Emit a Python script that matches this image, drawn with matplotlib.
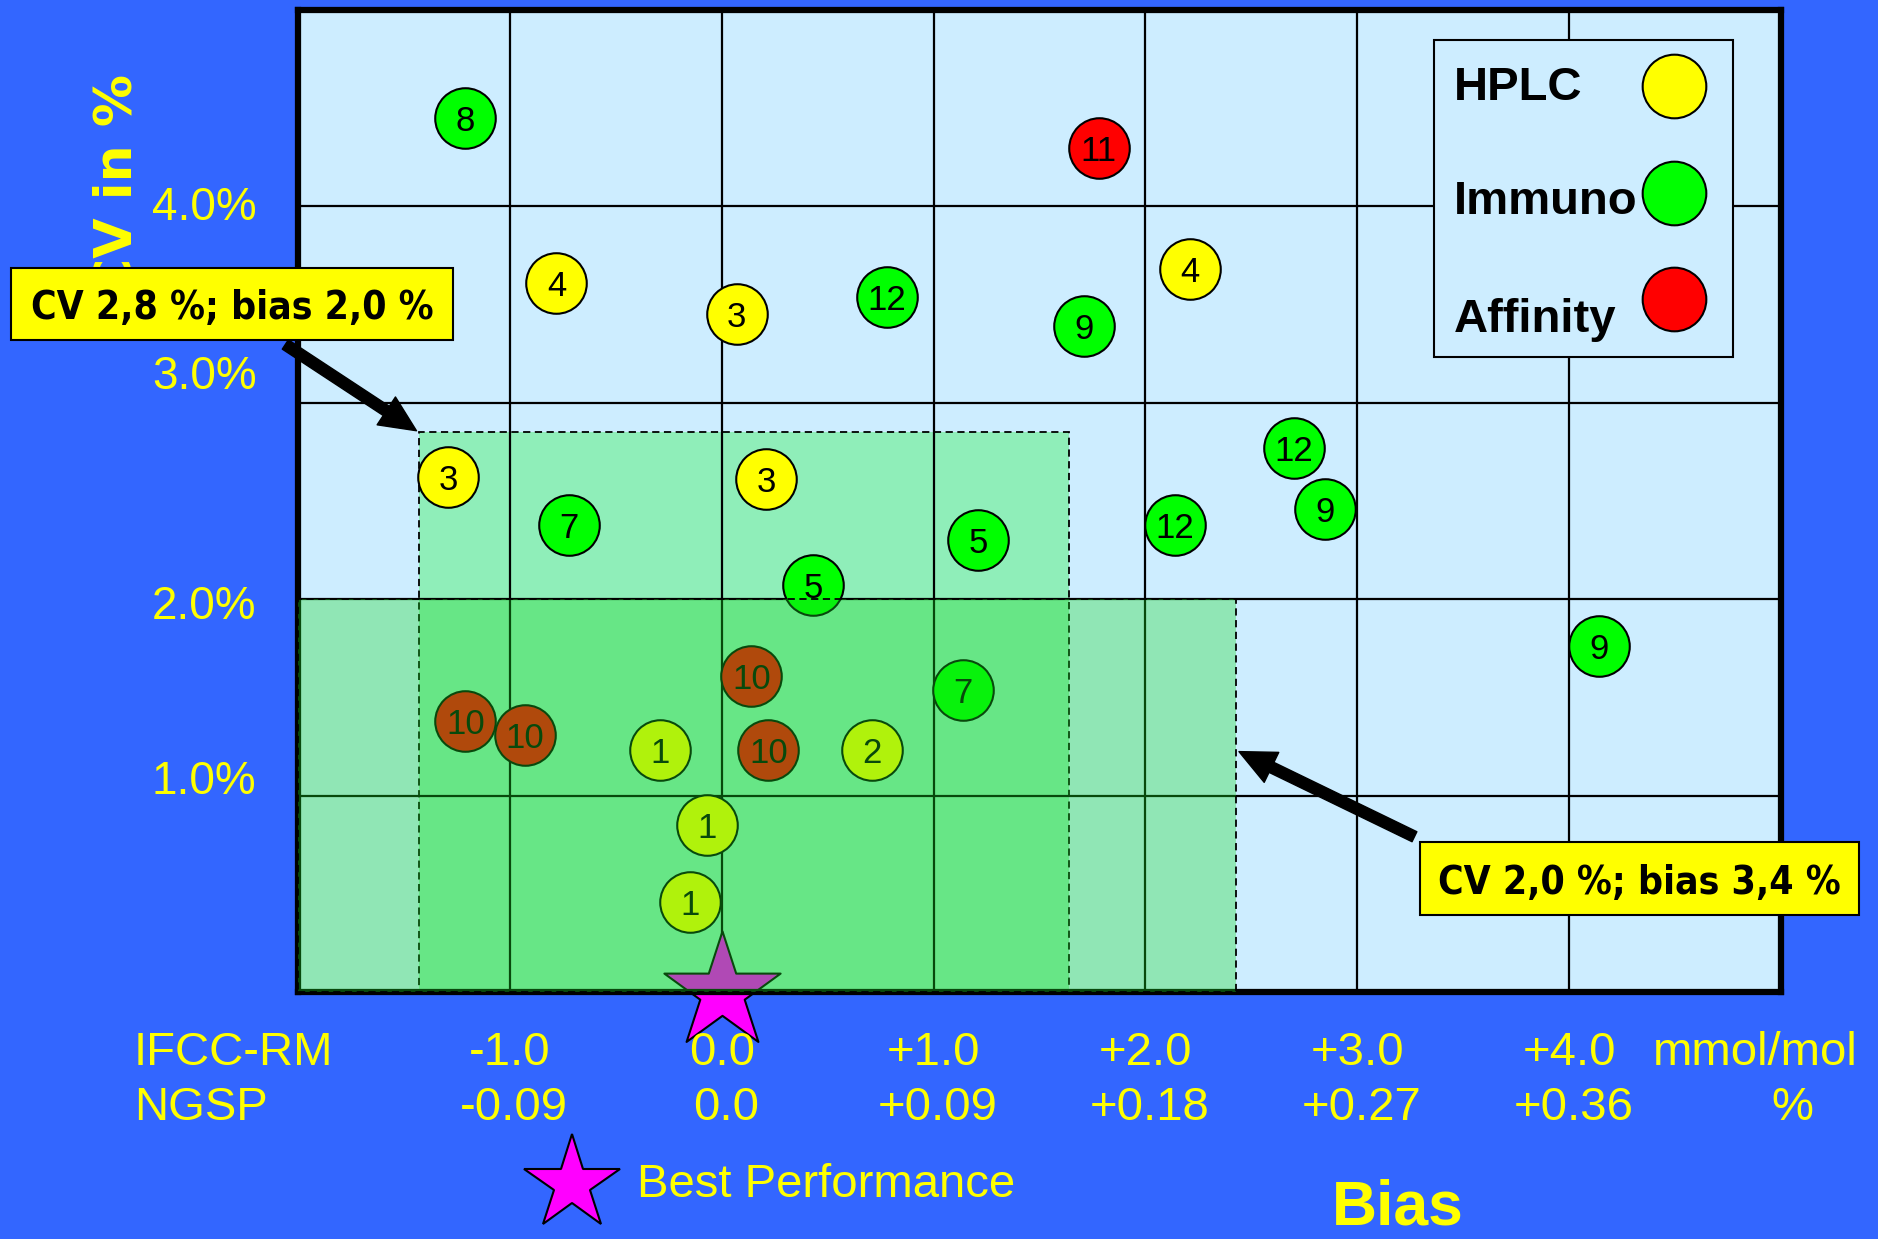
import matplotlib
matplotlib.use("Agg")
import matplotlib.pyplot as plt
from matplotlib.patches import Rectangle
from matplotlib.transforms import blended_transform_factory

# lab results: bias in mmol/mol (IFCC-RM) and CV in %
lab_id = ["8", "11", "4", "3", "12", "9", "4", "12", "9", "12", "9",
          "3", "3", "7", "5", "5", "10", "7", "10", "10", "1", "10", "2", "1", "1"]
bias = [-1.21, 1.78, -0.78, 0.07, 0.78, 1.71, 2.21, 2.70, 2.85, 2.14, 4.14,
        -1.29, 0.21, -0.72, 1.21, 0.43, 0.14, 1.14, -1.21, -0.93, -0.29, 0.22, 0.71, -0.07, -0.15]
cv = [4.45, 4.30, 3.61, 3.45, 3.54, 3.39, 3.68, 2.77, 2.46, 2.38, 1.76,
      2.62, 2.61, 2.38, 2.30, 2.07, 1.61, 1.54, 1.38, 1.31, 1.23, 1.23, 1.23, 0.85, 0.46]
method = ["Immuno", "Affinity", "HPLC", "HPLC", "Immuno", "Immuno", "HPLC", "Immuno", "Immuno", "Immuno", "Immuno",
          "HPLC", "HPLC", "Immuno", "Immuno", "Immuno", "Affinity", "Immuno", "Affinity", "Affinity",
          "HPLC", "Affinity", "HPLC", "HPLC", "HPLC"]

method_names = ["HPLC", "Immuno", "Affinity"]
method_colors = ["#ffff00", "#00ff00", "#ff0000"]

best_bias = [0.0]
best_cv = [0.0]

ifcc_ticks = [-1, 0, 1, 2, 3, 4]
ifcc_labels = ["-1.0", "0.0", "+1.0", "+2.0", "+3.0", "+4.0"]
ngsp_labels = ["-0.09", "0.0", "+0.09", "+0.18", "+0.27", "+0.36"]
cv_ticks = [1, 2, 3, 4]
cv_labels = ["1.0%", "2.0%", "3.0%", "4.0%"]

# acceptance limits
lim_a_bias = 2.43   # CV 2,0 %; bias 3,4 %
lim_a_cv = 2.0
lim_b_bias = [-1.43, 1.64]   # CV 2,8 %; bias 2,0 %
lim_b_cv = 2.85

BLUE = "#3366ff"
PALE = "#cdedff"
YEL = "#ffff00"
SANS = "Liberation Sans"

fig = plt.figure(figsize=(18.78, 12.39), dpi=100, facecolor=BLUE)
ax = fig.add_axes([0.1587, 0.1994, 0.7896, 0.7925])
ax.set_facecolor(PALE)
ax.set_xlim(-2, 5)
ax.set_ylim(0, 5)
ax.set_xticks(ifcc_ticks)
ax.set_yticks(cv_ticks)
ax.tick_params(length=0, labelbottom=False, labelleft=False)
ax.grid(True, color="black", lw=1.6)
for s in ax.spines.values():
    s.set_linewidth(4.5)

# limit boxes
ax.add_patch(Rectangle((lim_b_bias[0], 0), lim_b_bias[1] - lim_b_bias[0], lim_b_cv,
                       fc=(0.05, 0.95, 0.15, 0.32), ec="black", lw=1.3, ls=(0, (4, 2.5)), zorder=1))
ax.add_patch(Rectangle((-2, 0), lim_a_bias + 2, lim_a_cv,
                       fc=(0.1, 0.85, 0.15, 0.34), ec="black", lw=1.3, ls=(0, (4, 2.5)), zorder=5))

# best performance star
ax.scatter(best_bias, best_cv, marker="*", s=88 ** 2, c="#ff00ff", edgecolors="black",
           linewidths=1.5, zorder=2, clip_on=False)

# lab points
for name, col in zip(method_names, method_colors):
    xs = [b for b, m in zip(bias, method) if m == name]
    ys = [c for c, m in zip(cv, method) if m == name]
    ax.scatter(xs, ys, s=1900, c=col, edgecolors="black", linewidths=1.5, zorder=3)
for x, y, t in zip(bias, cv, lab_id):
    ax.text(x, y, t, ha="center", va="center_baseline", fontsize=25, family=SANS, zorder=4)

# legend
ax.add_patch(Rectangle((0.766, 0.647), 0.202, 0.322, transform=ax.transAxes,
                       fc=PALE, ec="black", lw=1.5, zorder=6))
leg_y_text = [0.921, 0.804, 0.684]
leg_y_dot = [0.923, 0.814, 0.706]
for name, col, yt, yd in zip(method_names, method_colors, leg_y_text, leg_y_dot):
    ax.text(0.7795, yt, name, transform=ax.transAxes, ha="left", va="center",
            fontsize=34, fontweight="bold", family=SANS, zorder=7)
    ax.scatter([0.928], [yd], transform=ax.transAxes, s=2100, c=col,
               edgecolors="black", linewidths=1.5, zorder=7)

# y tick labels
ty = blended_transform_factory(ax.transAxes, ax.transData)
cv_label_y = [1.07, 1.96, 3.13, 3.99]
for lab, yy in zip(cv_labels, cv_label_y):
    ax.text(-0.028, yy, lab, transform=ty, ha="right", va="center",
            fontsize=33, color=YEL, family=SANS)

# x tick labels (two scales)
tx = ax.get_xaxis_transform()
for xx, l1, l2 in zip(ifcc_ticks, ifcc_labels, ngsp_labels):
    ax.text(xx, -0.062, l1, transform=tx, ha="center", va="center",
            fontsize=34, color=YEL, family=SANS)
    ax.text(xx + 0.02, -0.118, l2, transform=tx, ha="center", va="center",
            fontsize=34, color=YEL, family=SANS)
ax.text(-0.1106, -0.062, "IFCC-RM", transform=ax.transAxes, ha="left", va="center",
        fontsize=34, color=YEL, family=SANS)
ax.text(-0.1106, -0.118, "NGSP", transform=ax.transAxes, ha="left", va="center",
        fontsize=34, color=YEL, family=SANS)
ax.text(0.9825, -0.062, "mmol/mol", transform=ax.transAxes, ha="center", va="center",
        fontsize=34, color=YEL, family=SANS)
ax.text(1.0074, -0.118, "%", transform=ax.transAxes, ha="center", va="center",
        fontsize=34, color=YEL, family=SANS)

# axis titles
fig.text(0.0625, 0.940, "CV in %", rotation=90, ha="center", va="top", fontsize=37.5,
         fontweight="bold", color=YEL, family="DejaVu Sans", zorder=1)
fig.text(0.7444, 0.001, "Bias", ha="center", va="bottom", fontsize=45,
         fontweight="bold", color=YEL, family=SANS)

# best performance key
fig.text(0.3392, 0.0435, "Best Performance", ha="left", va="center", fontsize=34,
         color=YEL, family=SANS)
fig.add_artist(plt.Line2D([0.3046], [0.0445], marker="*", markersize=72, color="#ff00ff",
                          markeredgecolor="black", markeredgewidth=1.5, transform=fig.transFigure))

# callout arrows
arrow = dict(arrowstyle="simple,head_length=2.6,head_width=2.4,tail_width=0.8",
             fc="black", ec="black", mutation_scale=10)
ax.annotate("", xy=(lim_b_bias[0], lim_b_cv), xycoords="data",
            xytext=(0.1507, 0.7232), textcoords="figure fraction",
            arrowprops=arrow, annotation_clip=False, zorder=8)
ax.annotate("", xy=(lim_a_bias, 1.23), xycoords="data",
            xytext=(0.7545, 0.3237), textcoords="figure fraction",
            arrowprops=arrow, annotation_clip=False, zorder=8)

# callout boxes
callouts = ["CV 2,8 %; bias 2,0 %", "CV 2,0 %; bias 3,4 %"]
box_xy = [(0.00586, 0.7256), (0.7561, 0.2615)]
box_wh = [(0.2354, 0.0581), (0.2338, 0.0589)]
for txt, (bx, by), (bw, bh) in zip(callouts, box_xy, box_wh):
    fig.add_artist(Rectangle((bx, by), bw, bh, transform=fig.transFigure,
                             fc=YEL, ec="black", lw=1.5, zorder=10))
    fig.text(bx + bw / 2, by + bh / 2, txt, ha="center", va="center_baseline", fontsize=28,
             fontweight="bold", family="DejaVu Sans", stretch="condensed", zorder=11)

fig.savefig("out.png", dpi=100, facecolor=BLUE)
